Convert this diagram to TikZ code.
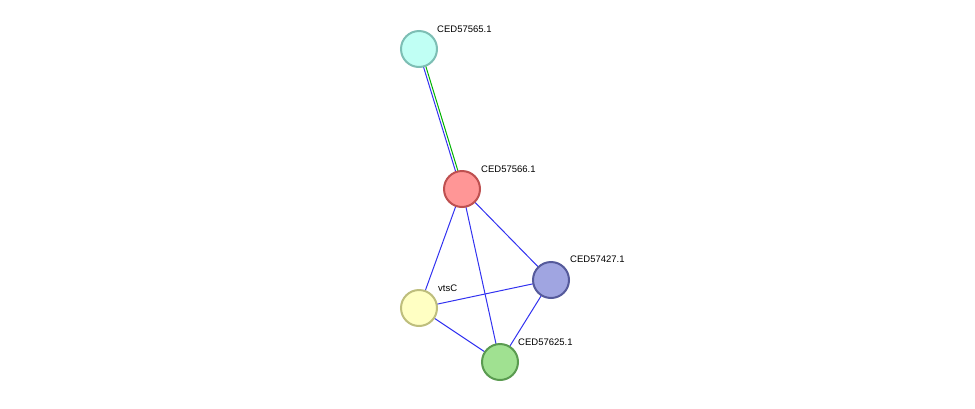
\documentclass[tikz,border=0pt]{standalone}
\usepackage{fontspec}
\setmainfont{Liberation Sans}
\begin{document}
\begin{tikzpicture}[x=1pt,y=-1pt,
  prot/.style={circle,minimum size=36pt,inner sep=0pt,line width=2pt},
  lab/.style={anchor=south west,font=\fontsize{9.5}{11}\selectfont,inner sep=0pt},
  ed/.style={draw={rgb,255:red,50;green,50;blue,240},line width=1pt}]
\useasboundingbox (0,0) rectangle (975,408);
\coordinate (a) at (419,49);
\coordinate (b) at (462,189);
\coordinate (c) at (551,280);
\coordinate (d) at (419,308);
\coordinate (e) at (500,362);
\draw[green!70!black,line width=1pt] ([xshift=1.5pt]a) -- ([xshift=1.5pt]b);
\draw[ed] ([xshift=-1pt]a) -- ([xshift=-1pt]b);
\draw[ed] (b) -- (c);
\draw[ed] (b) -- (d);
\draw[ed] (b) -- (e);
\draw[ed] (d) -- (c);
\draw[ed] (d) -- (e);
\draw[ed] (c) -- (e);
\foreach \n/\f/\s in {a/{192,255,244}/{125,190,180},b/{255,150,150}/{190,80,80},c/{160,165,225}/{85,90,155},d/{255,255,195}/{190,190,125},e/{160,225,145}/{90,155,80}}{
  \definecolor{ff}{RGB}{\f}\definecolor{ss}{RGB}{\s}
  \node[prot,fill=ff,draw=ss] (n\n) at (\n) {};}
\node[lab] (la) at (437,33) {CED57565.1};
\node[lab] (lb) at (481,173) {CED57566.1};
\node[lab] (lc) at (570,263) {CED57427.1};
\node[lab] (ld) at (438,292) {vtsC};
\node[lab] (le) at (518,346) {CED57625.1};
\end{tikzpicture}
\end{document}
